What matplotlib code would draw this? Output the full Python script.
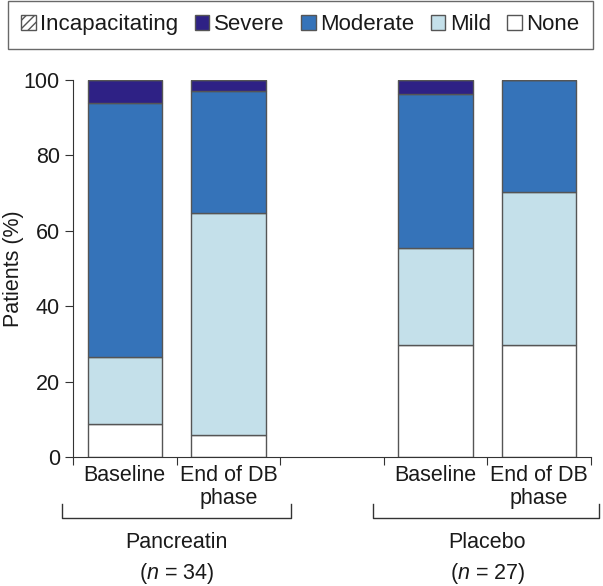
import matplotlib
matplotlib.use("Agg")
import matplotlib.pyplot as plt
from matplotlib.patches import Patch

plt.rcParams["font.family"] = ["Liberation Sans", "DejaVu Sans"]
plt.rcParams["mathtext.fontset"] = "custom"
plt.rcParams["mathtext.rm"] = "Liberation Sans"
plt.rcParams["mathtext.it"] = "Liberation Sans:italic"
plt.rcParams["hatch.color"] = "#555555"

# data (percent of patients)
bar_pos = [0.5, 1.5, 3.5, 4.5]
bar_labels = ["Baseline", "End of DB\nphase", "Baseline", "End of DB\nphase"]
none = [8.8, 5.9, 29.6, 29.6]
mild = [17.6, 58.8, 25.9, 40.7]
moderate = [67.6, 32.4, 40.7, 29.6]
severe = [5.9, 2.9, 3.7, 0.0]
incapacitating = [0.0, 0.0, 0.0, 0.0]
groups = ["Pancreatin", "Placebo"]
group_n = [34, 27]
group_center = [1.0, 4.0]
group_span = [(-0.11, 2.1), (2.9, 5.08)]

edge = "#555555"
col_none = "white"
col_mild = "#c4e0ea"
col_mod = "#3573b9"
col_sev = "#2e2185"
txt = "#1a1a1a"

fig = plt.figure(figsize=(6.03, 5.86), dpi=100)
ax = fig.add_axes([73 / 603, 129 / 586, 518 / 603, 377 / 586])

w = 0.72
bottom = [0.0] * 4
for vals, c, h in [(none, col_none, None), (mild, col_mild, None),
                   (moderate, col_mod, None), (severe, col_sev, None),
                   (incapacitating, "white", "////")]:
    ax.bar(bar_pos, vals, w, bottom=bottom, color=c, edgecolor=edge,
           linewidth=1, hatch=h)
    bottom = [b + v for b, v in zip(bottom, vals)]

ax.set_xlim(0, 5)
ax.set_ylim(0, 100)
ax.spines["top"].set_visible(False)
ax.spines["right"].set_visible(False)
for s in ["left", "bottom"]:
    ax.spines[s].set_color("#333333")
ax.set_xticks([0, 1, 2, 3, 4, 5])
ax.set_xticklabels([])
ax.set_yticks([0, 20, 40, 60, 80, 100])
ax.tick_params(axis="both", direction="out", length=6, color="#333333",
               labelsize=15.5, labelcolor=txt)
fig.text(14 / 603, 0.5 * (129 + 506) / 586, "Patients (%)", rotation=90,
         ha="center", va="center", fontsize=15.5, color=txt)

tr = ax.get_xaxis_transform()
for x, lab in zip(bar_pos, bar_labels):
    ax.text(x, -0.022, lab, transform=tr, ha="center", va="top",
            fontsize=15.5, color=txt, linespacing=1.1)

for g, n, xc, (x0, x1) in zip(groups, group_n, group_center, group_span):
    ax.plot([x0, x0, x1, x1], [-0.125, -0.161, -0.161, -0.125], transform=tr,
            color="#333333", lw=1, clip_on=False)
    ax.text(xc, -0.228, g, transform=tr, ha="center", va="center",
            fontsize=15.5, color=txt)
    ax.text(xc, -0.31, r"($\it{n}$ = %d)" % n, transform=tr, ha="center",
            va="center", fontsize=15.5, color=txt)

handles = [
    Patch(facecolor="white", edgecolor=edge, hatch="////", label="Incapacitating"),
    Patch(facecolor=col_sev, edgecolor=edge, label="Severe"),
    Patch(facecolor=col_mod, edgecolor=edge, label="Moderate"),
    Patch(facecolor=col_mild, edgecolor=edge, label="Mild"),
    Patch(facecolor=col_none, edgecolor=edge, label="None"),
]
leg = fig.legend(handles=handles, loc="upper left",
                 bbox_to_anchor=(8 / 603, 1 - 1 / 586), ncol=5,
                 fontsize=16, frameon=True, fancybox=False,
                 handlelength=0.65, handleheight=0.65, handletextpad=0.2,
                 columnspacing=0.75, borderpad=0.6, borderaxespad=0)
leg.get_frame().set_edgecolor("#444444")
leg.get_frame().set_linewidth(1)
for t in leg.get_texts():
    t.set_color(txt)

fig.savefig("out.png", dpi=100)
